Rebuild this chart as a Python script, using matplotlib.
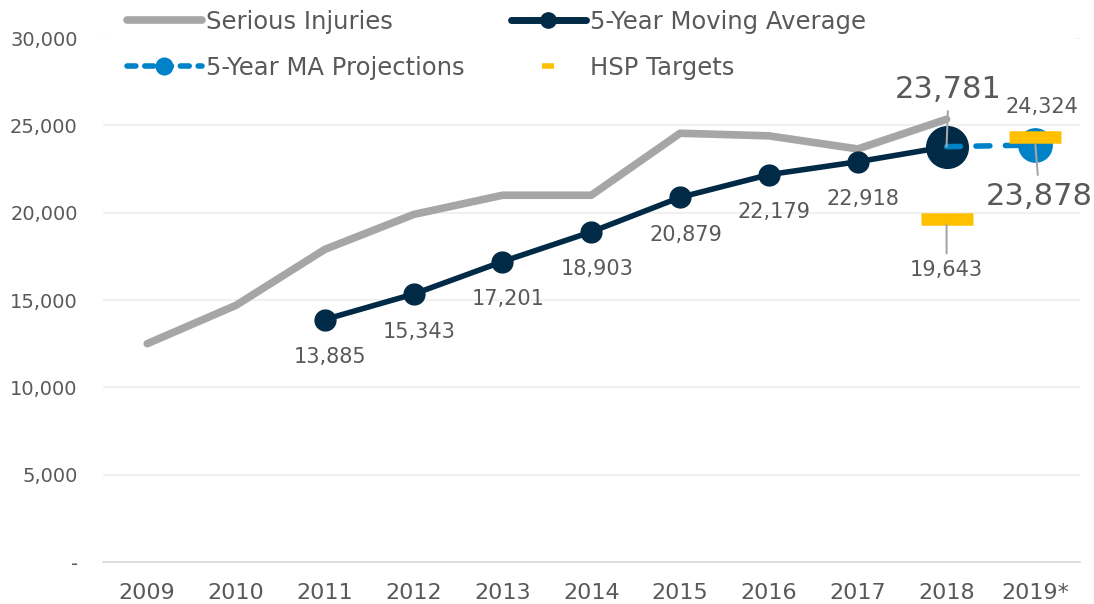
import matplotlib.pyplot as plt
from matplotlib.lines import Line2D
from matplotlib.patches import Rectangle
import numpy as np

years = ['2009', '2010', '2011', '2012', '2013', '2014', '2015', '2016', '2017', '2018', '2019*']
serious = [12500, 14700, 17900, 19900, 21000, 21000, 24550, 24400, 23650, 25350]
ma = [13885, 15343, 17201, 18903, 20879, 22179, 22918, 23781]
ma_years = years[2:10]
proj = [23781, 23878]
proj_years = ['2018', '2019*']
hsp = [19643, 24324]
hsp_years = ['2018', '2019*']

gray = '#A6A6A6'
navy = '#002A45'
blue = '#0082C8'
gold = '#FFC000'
txt = '#595959'

plt.rcParams['font.family'] = ['DejaVu Sans']

fig = plt.figure(figsize=(10.94, 6.04), dpi=100)
ax = fig.add_axes([0.094, 0.0695, 0.893, 0.8675])

xi = {y: i for i, y in enumerate(years)}
x_ser = [xi[y] for y in years[:len(serious)]]
x_ma = [xi[y] for y in ma_years]
x_proj = [xi[y] for y in proj_years]
x_hsp = [xi[y] for y in hsp_years]

dash = (0, (2.5, 2.8))
ax.plot(x_ser, serious, color=gray, lw=5.5, solid_capstyle='round', zorder=2)
ax.plot(x_ma, ma, color=navy, lw=4, marker='o', ms=15, zorder=3)
ax.plot(x_ma[-1], ma[-1], marker='o', ms=30, color=navy, zorder=4)
ax.plot(x_proj, proj, color=blue, lw=4, ls=dash, dash_capstyle='round', zorder=5)
ax.plot(x_proj[-1], proj[-1], marker='o', ms=24, color=blue, zorder=4)
ax.plot(x_hsp, hsp, ls='none', marker='_', ms=38, mew=9, color=gold, zorder=6)

# labels for moving average
for x, v in zip(x_ma[:-1], ma[:-1]):
    ax.annotate(f'{v:,}', (x, v), xytext=(4, -27), textcoords='offset points',
                ha='center', va='center', fontsize=15, color=txt)

lead = dict(arrowstyle='-', color=gray, lw=1.5, shrinkB=0)
ax.annotate(f'{ma[-1]:,}', (x_ma[-1], ma[-1]), xytext=(1.5, 41), textcoords='offset points',
            ha='center', va='center', fontsize=22, color=txt, zorder=8,
            arrowprops=dict(lead, shrinkA=3))
ax.annotate(f'{proj[-1]:,}', (x_proj[-1], proj[-1]), xytext=(3, -37), textcoords='offset points',
            ha='center', va='center', fontsize=22, color=txt, zorder=8,
            arrowprops=dict(lead, shrinkA=3))
ax.annotate(f'{hsp[0]:,}', (x_hsp[0], hsp[0]), xytext=(0, -37), textcoords='offset points',
            ha='center', va='center', fontsize=15, color=txt, zorder=8,
            arrowprops=dict(lead, shrinkA=3, shrinkB=4))
ax.annotate(f'{hsp[1]:,}', (x_hsp[1], hsp[1]), xytext=(5, 22), textcoords='offset points',
            ha='center', va='center', fontsize=15, color=txt)

ax.set_xlim(-0.5, len(years) - 0.5)
ax.set_ylim(0, 30000)
ax.set_xticks(range(len(years)))
ax.set_xticklabels(years, fontsize=16, color=txt)
yt = np.arange(0, 30001, 5000)
ax.set_yticks(yt)
ax.set_yticklabels(['-'] + [f'{v:,}' for v in yt[1:]], fontsize=14, color=txt)
ax.tick_params(axis='both', length=0)
ax.tick_params(axis='x', pad=15)
ax.tick_params(axis='y', pad=18)
ax.grid(axis='y', color='#EDEDED', lw=1.2)
ax.set_axisbelow(True)
for s in ['top', 'right', 'left']:
    ax.spines[s].set_visible(False)
ax.spines['bottom'].set_color('#D9D9D9')
ax.spines['bottom'].set_linewidth(1.2)

# white band behind the legend hides the top gridline
fig.patches.append(Rectangle((105 / 1094, 1 - 48 / 604), 970 / 1094, 48 / 604,
                             transform=fig.transFigure, color='white', zorder=1))

handles = [
    Line2D([], [], color=gray, lw=5.5, solid_capstyle='round'),
    Line2D([], [], color=blue, lw=4, ls=(0, (1.6, 1.6)), marker='o', ms=12, dash_capstyle='round'),
    Line2D([], [], color=navy, lw=5, marker='o', ms=11, solid_capstyle='round'),
    Line2D([], [], ls='none', marker='_', ms=8, mew=4, color=gold),
]
labels = ['Serious Injuries', '5-Year MA Projections', '5-Year Moving Average', 'HSP Targets']
leg = fig.legend(handles, labels, loc='upper left', bbox_to_anchor=(0.107, 1.0), ncol=2,
                 fontsize=17.5, frameon=False, handlelength=3.1, handletextpad=0.15,
                 columnspacing=1.9, labelspacing=0.9, borderaxespad=0)
for t in leg.get_texts():
    t.set_color(txt)

fig.savefig('out.png', dpi=100)
